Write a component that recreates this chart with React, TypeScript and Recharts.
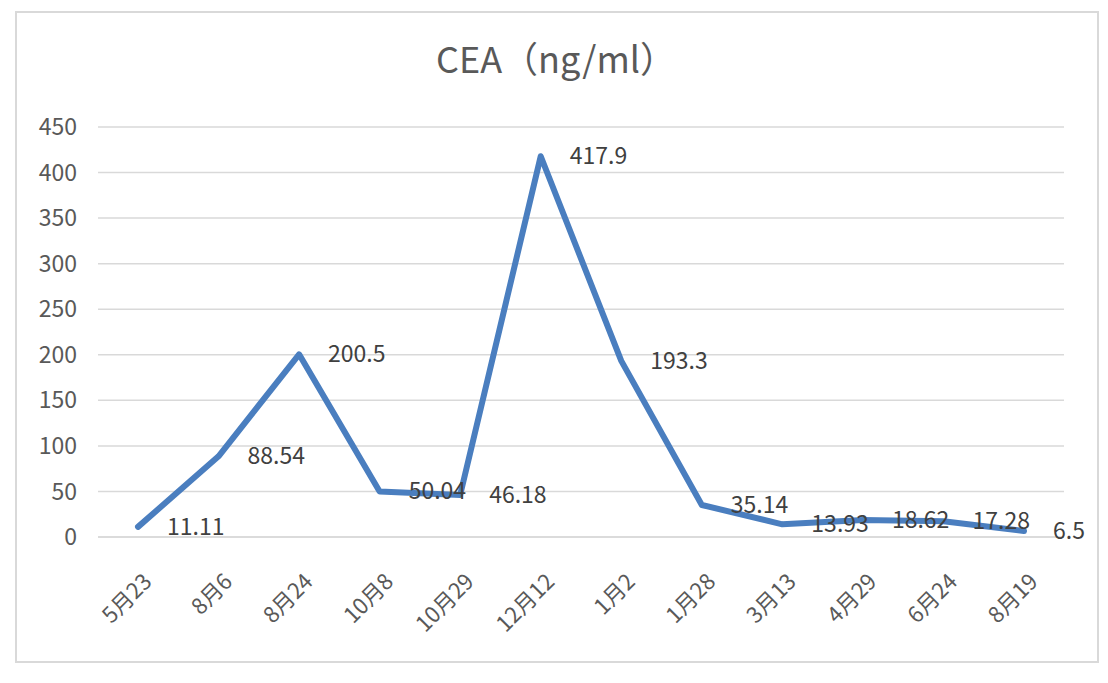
import React from "react";
import { LineChart, Line, XAxis, YAxis, CartesianGrid, LabelList } from "recharts";

const dates = ["5月23", "8月6", "8月24", "10月8", "10月29", "12月12", "1月2", "1月28", "3月13", "4月29", "6月24", "8月19"];
const ceaValues = [11.11, 88.54, 200.5, 50.04, 46.18, 417.9, 193.3, 35.14, 13.93, 18.62, 17.28, 6.5];
const yTicks = [0, 50, 100, 150, 200, 250, 300, 350, 400, 450];

const data = dates.map((d, i) => ({ date: d, cea: ceaValues[i] }));

const FONT = '"Noto Sans CJK SC", "Noto Sans", sans-serif';

const DateTick = (props: any) => {
  const { x, y, payload } = props;
  const ax = x + 8;
  const ay = y + 39;
  return (
    <text
      x={ax}
      y={ay}
      textAnchor="end"
      dominantBaseline="central"
      transform={`rotate(-45, ${ax}, ${ay})`}
      fill="#595959"
      fontSize={22}
      fontFamily={FONT}
    >
      {payload.value}
    </text>
  );
};

const ValueLabel = (props: any) => {
  const { x, y, value } = props;
  return (
    <text x={x + 29} y={y - 2} dominantBaseline="central" fill="#404040" fontSize={23} fontFamily={FONT}>
      {value}
    </text>
  );
};

export default function App() {
  return (
    <div>
      {/* chart frame */}
      <div
        style={{
          position: "absolute",
          left: 15,
          top: 11,
          width: 1080,
          height: 648,
          border: "2px solid #d9d9d9",
          background: "#fff",
        }}
      />
      <div
        style={{
          position: "absolute",
          left: 16,
          width: 1080,
          top: 39,
          textAlign: "center",
          fontFamily: FONT,
          fontSize: 36,
          lineHeight: "36px",
          color: "#595959",
        }}
      >
        CEA（ng/ml）
      </div>
      <div style={{ position: "absolute", left: 0, top: 0 }}>
        <LineChart width={1108} height={683} data={data} margin={{ top: 127, right: 44, bottom: 46, left: 38 }}>
          <CartesianGrid vertical={false} stroke="#d9d9d9" strokeWidth={1.5} />
          <XAxis
            dataKey="date"
            height={100}
            padding={{ left: 40, right: 40 }}
            axisLine={{ stroke: "#d9d9d9", strokeWidth: 1.5 }}
            tickLine={false}
            tickSize={0}
            tickMargin={0}
            interval={0}
            tick={<DateTick />}
          />
          <YAxis
            width={60}
            domain={[0, 450]}
            ticks={yTicks}
            axisLine={false}
            tickLine={false}
            tickSize={0}
            tickMargin={21}
            tick={{ fill: "#595959", fontSize: 23, fontFamily: FONT }}
          />
          <Line
            type="linear"
            dataKey="cea"
            stroke="#4A7EBF"
            strokeWidth={6}
            strokeLinejoin="round"
            strokeLinecap="round"
            dot={false}
            isAnimationActive={false}
          >
            <LabelList dataKey="cea" content={<ValueLabel />} />
          </Line>
        </LineChart>
      </div>
    </div>
  );
}
